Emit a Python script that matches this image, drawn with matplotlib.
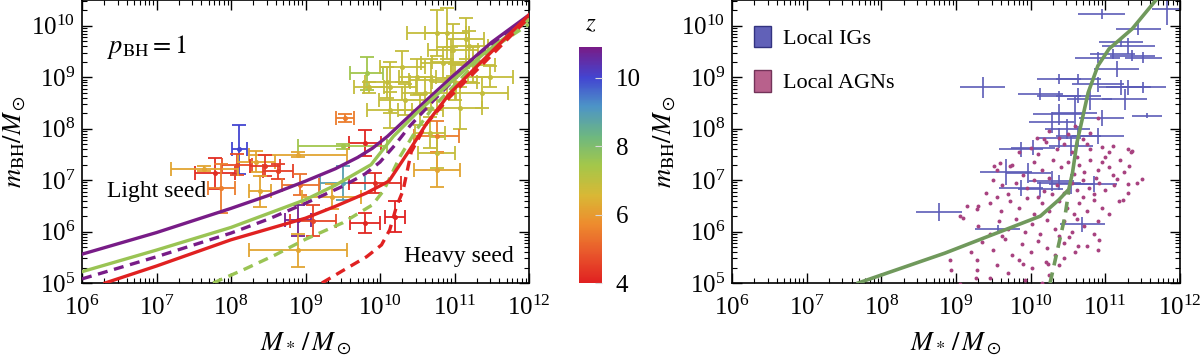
import matplotlib
matplotlib.use('Agg')
import matplotlib.pyplot as plt
import numpy as np
from matplotlib.colors import LinearSegmentedColormap, Normalize
from matplotlib.patches import Patch
from matplotlib.ticker import LogLocator, NullFormatter, FixedLocator
import matplotlib.colorbar as mcolorbar

plt.rcParams['font.family'] = ['Liberation Serif', 'DejaVu Serif']
plt.rcParams['mathtext.fontset'] = 'stix'

# ---- model curves, left panel (log10 values) ----
purple_solid_x = [6.0, 7.0, 8.0, 8.5, 9.0, 9.4, 9.7, 9.9, 10.1, 10.3, 10.6, 11.0, 11.5, 12.0]
purple_solid_y = [5.56, 5.98, 6.45, 6.7, 6.98, 7.22, 7.44, 7.62, 7.85, 8.12, 8.52, 9.05, 9.68, 10.21]
purple_dash_x = [6.0, 7.0, 8.0, 8.5, 9.0, 9.5, 9.8, 10.0, 10.2, 10.4, 10.72, 11.16, 11.61, 12.0]
purple_dash_y = [5.08, 5.51, 5.97, 6.24, 6.55, 6.88, 7.12, 7.35, 7.68, 8.05, 8.55, 9.2, 9.75, 10.12]
green_solid_x = [6.0, 7.0, 8.0, 9.0, 9.4, 9.88, 10.18, 10.49, 10.94, 11.38, 12.0]
green_solid_y = [5.22, 5.64, 6.08, 6.62, 6.90, 7.30, 7.85, 8.30, 8.89, 9.44, 10.12]
green_dash_x = [7.76, 8.2, 8.6, 9.0, 9.5, 9.9, 10.05, 10.27, 10.49, 10.72, 11.16, 11.61, 12.0]
green_dash_y = [5.0, 5.28, 5.55, 5.85, 6.17, 6.52, 6.8, 7.46, 7.98, 8.43, 9.08, 9.66, 10.03]
red_solid_x = [6.31, 7.0, 8.0, 9.0, 9.4, 9.82, 10.12, 10.4, 10.63, 10.94, 11.39, 12.0]
red_solid_y = [5.0, 5.33, 5.84, 6.26, 6.49, 6.75, 6.98, 7.59, 8.11, 8.69, 9.34, 10.21]
red_dash_x = [9.22, 9.5, 9.82, 10.02, 10.13, 10.22, 10.31, 10.42, 10.63, 10.94, 11.39, 12.0]
red_dash_y = [5.0, 5.24, 5.51, 5.74, 6.03, 6.48, 6.8, 7.55, 8.11, 8.62, 9.27, 10.16]
curve_z = {'purple': 10.9, 'green': 7.6, 'red': 4.0}

# ---- high-z observed AGNs (log10 M*, log10 mBH, errors, redshift) ----
obs_lx = [8.11, 8.90, 9.50, 9.82, 9.85, 10.13, 10.76, 10.98, 10.85, 11.25,
          11.48, 11.37, 11.07, 10.69, 10.34, 10.54, 10.13, 10.76, 10.76, 10.76,
          10.67, 9.53, 9.80, 9.50, 8.90, 7.79, 8.08, 7.64, 8.34, 8.46,
          8.63, 7.87, 8.39, 8.93, 9.10, 8.90, 9.93, 9.80, 10.20, 9.35,
          10.90, 10.95, 10.10, 11.20, 10.60, 10.50, 11.00, 11.15, 10.30]
obs_ly = [7.60, 6.22, 6.95, 9.08, 8.80, 8.80, 9.86, 9.53, 9.28, 9.24,
          9.01, 8.70, 8.40, 8.95, 8.56, 8.37, 8.37, 7.85, 7.53, 7.20,
          7.92, 8.21, 7.72, 7.66, 7.49, 7.13, 7.30, 7.22, 7.36, 7.28,
          7.17, 6.84, 6.78, 6.91, 6.21, 5.64, 6.94, 6.17, 6.29, 6.68,
          9.85, 9.29, 8.90, 9.60, 8.70, 9.00, 8.90, 9.75, 9.20]
obs_dx = [0.10, 0.18, 0.30, 0.22, 0.20, 0.35, 0.40, 0.33, 0.30, 0.30,
          0.30, 0.35, 0.30, 0.30, 0.35, 0.30, 0.30, 0.30, 0.25, 0.31,
          0.20, 0.12, 0.22, 0.60, 0.66, 0.27, 0.20, 0.45, 0.25, 0.20,
          0.20, 0.18, 0.15, 0.25, 0.31, 0.66, 0.35, 0.20, 0.13, 0.40,
          0.30, 0.25, 0.30, 0.25, 0.30, 0.25, 0.30, 0.25, 0.30]
obs_dy = [0.48, 0.30, 0.33, 0.32, 0.10, 0.50, 0.45, 0.50, 0.30, 0.35,
          0.20, 0.30, 0.40, 0.40, 0.30, 0.30, 0.35, 0.30, 0.30, 0.33,
          0.30, 0.08, 0.25, 0.05, 0.05, 0.30, 0.20, 0.05, 0.20, 0.20,
          0.15, 0.47, 0.30, 0.20, 0.30, 0.32, 0.20, 0.20, 0.30, 0.25,
          0.50, 0.30, 0.30, 0.30, 0.30, 0.35, 0.35, 0.40, 0.30]
obs_z = [10.0, 10.8, 8.9, 7.5, 6.9, 6.9, 6.9, 6.9, 6.9, 6.9,
         6.9, 6.9, 6.9, 6.9, 6.9, 6.9, 6.9, 5.5, 6.9, 6.2,
         6.9, 5.5, 4.1, 7.5, 6.2, 4.2, 4.7, 6.2, 6.2, 4.4,
         4.5, 5.5, 6.2, 5.3, 4.6, 6.2, 4.2, 4.1, 4.0, 6.2,
         6.9, 6.9, 6.9, 6.9, 6.9, 6.9, 6.9, 6.9, 6.9]

# ---- right panel: local inactive galaxies (IGs) ----
ig_lx = [10.95, 11.82, 11.44, 11.21, 11.31, 11.36, 11.10, 11.51, 10.90, 11.15,
         9.36, 8.77, 10.38, 10.64, 10.90, 11.21, 11.51, 10.38, 10.13, 10.64,
         10.79, 11.26, 11.56, 10.59, 10.38, 10.28, 10.49, 10.64, 10.38, 10.03,
         10.54, 9.87, 9.67, 9.97, 10.28, 10.38, 10.54, 10.85, 9.87, 10.13,
         9.56, 10.69, 10.95, 11.31, 10.90]
ig_ly = [10.23, 10.32, 9.94, 9.68, 9.61, 9.42, 9.45, 9.38, 9.38, 9.16,
         8.80, 6.38, 8.96, 8.96, 8.86, 8.80, 8.80, 8.64, 8.67, 8.64,
         8.57, 8.57, 8.25, 8.31, 8.28, 8.12, 7.99, 7.86, 7.82, 7.63,
         7.66, 7.60, 7.16, 7.14, 6.98, 6.95, 6.92, 6.92, 6.85, 6.82,
         6.04, 6.14, 8.21, 8.80, 7.86]
ig_dx = [0.31, 0.20, 0.30, 0.30, 0.35, 0.30, 0.30, 0.25, 0.30, 0.30,
         0.30, 0.31, 0.30, 0.30, 0.35, 0.30, 0.30, 0.30, 0.30, 0.30,
         0.30, 0.30, 0.20, 0.30, 0.35, 0.30, 0.30, 0.30, 0.30, 0.30,
         0.30, 0.30, 0.35, 0.30, 0.30, 0.30, 0.30, 0.30, 0.30, 0.30,
         0.30, 0.30, 0.30, 0.30, 0.35]
ig_dy = [0.10, 0.30, 0.12, 0.10, 0.15, 0.10, 0.10, 0.10, 0.10, 0.15,
         0.21, 0.18, 0.10, 0.10, 0.15, 0.15, 0.10, 0.10, 0.12, 0.15,
         0.20, 0.20, 0.05, 0.30, 0.20, 0.20, 0.20, 0.20, 0.20, 0.15,
         0.20, 0.15, 0.25, 0.20, 0.20, 0.15, 0.20, 0.15, 0.15, 0.15,
         0.08, 0.15, 0.15, 0.15, 0.15]

# ---- right panel: local AGNs ----
agn_lx = [10.9, 10.5, 10.25, 10.6, 10.2, 10.35, 10.45, 10.55, 10.7, 10.8,
          10.95, 11.05, 11.3, 11.35, 9.85, 10.0, 10.1, 10.75, 10.62, 9.55,
          9.75, 10.05, 10.15, 10.3, 10.4, 10.5, 10.65, 10.72, 10.8, 10.9,
          10.95, 11.05, 11.1, 11.2, 11.25, 11.0, 10.58, 9.9, 10.25, 11.32,
          9.5, 9.62, 9.8, 9.95, 10.05, 10.18, 10.35, 10.45, 10.55, 10.62,
          10.7, 10.78, 10.85, 10.92, 11.0, 11.12, 11.3, 11.42, 9.4, 10.28,
          10.88, 11.15, 9.7, 9.3, 9.45, 9.6, 9.72, 9.85, 9.95, 10.05,
          10.15, 10.25, 10.38, 10.48, 10.58, 10.65, 10.75, 10.85, 10.95, 11.05,
          11.18, 9.05, 9.55, 10.1, 10.7, 9.15, 9.3, 9.45, 9.58, 9.7,
          9.8, 9.92, 10.02, 10.12, 10.22, 10.32, 10.45, 10.55, 10.62, 10.72,
          10.85, 9.62, 10.38, 10.9, 9.35, 9.5, 9.65, 9.75, 9.88, 10.0,
          10.1, 10.22, 10.32, 10.45, 10.6, 10.75, 10.9, 9.2, 10.52, 8.92,
          8.93, 9.28, 9.28, 9.27, 9.05, 9.55, 9.7, 9.85, 9.92, 10.02,
          10.2, 10.25, 10.38, 10.15, 9.45, 9.51, 9.59, 9.72, 10.08, 10.18,
          10.38, 10.79, 11.1, 11.36, 11.49, 11.31, 11.23, 9.09, 9.28, 10.44,
          10.64, 10.92, 10.23, 9.9]
agn_ly = [8.2, 7.9, 7.95, 8.05, 7.75, 7.6, 7.7, 7.55, 7.8, 7.6,
          7.65, 7.55, 7.6, 7.55, 7.55, 7.62, 7.5, 7.7, 7.45, 7.2,
          7.3, 7.35, 7.2, 7.4, 7.25, 7.35, 7.3, 7.15, 7.4, 7.2,
          7.35, 7.25, 7.1, 7.4, 7.15, 7.45, 7.12, 7.1, 7.05, 7.28,
          7.0, 6.9, 6.95, 6.85, 7.0, 6.78, 6.9, 6.75, 6.95, 6.8,
          7.0, 6.85, 6.72, 6.95, 6.8, 6.9, 6.75, 6.95, 6.75, 6.72,
          7.05, 7.02, 6.72, 6.5, 6.55, 6.4, 6.6, 6.45, 6.65, 6.35,
          6.55, 6.4, 6.6, 6.45, 6.35, 6.55, 6.4, 6.62, 6.45, 6.35,
          6.6, 6.3, 6.68, 6.68, 6.68, 6.5, 6.1, 5.95, 6.2, 6.05,
          6.25, 6.0, 6.15, 5.95, 6.22, 6.05, 6.2, 6.0, 6.25, 6.1,
          5.95, 5.92, 5.92, 6.2, 5.8, 5.65, 5.85, 5.55, 5.75, 5.6,
          5.82, 5.68, 5.55, 5.78, 5.6, 5.72, 5.65, 5.6, 5.9, 5.45,
          5.25, 5.45, 5.25, 5.1, 4.98, 5.35, 5.2, 5.45, 5.05, 5.3,
          5.4, 5.15, 5.35, 5.0, 5.1, 7.27, 7.34, 7.27, 7.82, 7.79,
          7.82, 7.92, 7.66, 7.56, 7.03, 6.92, 6.62, 6.27, 6.44, 5.49,
          5.71, 5.84, 5.36, 5.36]

# right panel model curve
rp_solid_x = [7.69, 8.85, 10.13, 10.38, 10.51, 10.56, 10.62, 10.67, 10.77, 10.90, 11.05, 11.36, 11.69]
rp_solid_y = [5.0, 5.58, 6.30, 6.62, 6.82, 7.14, 7.73, 8.05, 8.70, 9.22, 9.55, 9.94, 10.52]
rp_dash_x = [10.26, 10.36, 10.46, 10.51]
rp_dash_y = [5.0, 5.65, 6.30, 6.79]

x_decades = [6, 7, 8, 9, 10, 11, 12]
y_decades = [5, 6, 7, 8, 9, 10]

cmap = LinearSegmentedColormap.from_list('rb', [
    (0.00, (0.88, 0.13, 0.13)), (0.12, (0.91, 0.33, 0.17)),
    (0.25, (0.93, 0.55, 0.18)), (0.37, (0.85, 0.72, 0.21)),
    (0.50, (0.64, 0.78, 0.29)), (0.62, (0.43, 0.72, 0.50)),
    (0.75, (0.30, 0.58, 0.78)), (0.87, (0.26, 0.27, 0.82)),
    (1.00, (0.47, 0.11, 0.53))])
norm = Normalize(4, 10.9)


def p10(a):
    return 10 ** np.asarray(a, dtype=float)


def style(ax):
    ax.set_xscale('log')
    ax.set_yscale('log')
    ax.set_xlim(1e6, 1e12)
    ax.set_ylim(1e5, 10 ** 10.5)
    ax.xaxis.set_major_locator(FixedLocator(p10(x_decades)))
    ax.yaxis.set_major_locator(FixedLocator(p10(y_decades)))
    for axis in (ax.xaxis, ax.yaxis):
        axis.set_minor_locator(LogLocator(base=10, subs=np.arange(2, 10), numticks=20))
        axis.set_minor_formatter(NullFormatter())
    ax.tick_params(which='both', direction='in', top=True, right=True, labelsize=18)
    ax.tick_params(which='major', length=7, width=1.0)
    ax.tick_params(axis='x', which='major', pad=9)
    ax.tick_params(axis='y', which='major', pad=5)
    ax.tick_params(which='minor', length=3.5, width=0.8)
    for s in ax.spines.values():
        s.set_linewidth(1.2)
    ax.set_xlabel(r'$M_*\,/\,M_\odot$', fontsize=19, labelpad=8)
    ax.set_ylabel(r'$m_{\rm BH}/M_\odot$', fontsize=19, labelpad=2)


fig = plt.figure(figsize=(12, 3.6), dpi=100)
ax1 = fig.add_axes([82 / 1200, 77 / 360, 447 / 1200, 283 / 360])
ax2 = fig.add_axes([732 / 1200, 77 / 360, 448 / 1200, 283 / 360])
cax = fig.add_axes([579 / 1200, 77 / 360, 23 / 1200, 236 / 360])

# left panel
for lx, ly, dx, dy, z in zip(obs_lx, obs_ly, obs_dx, obs_dy, obs_z):
    x, y = 10 ** lx, 10 ** ly
    ax1.errorbar([x], [y], xerr=[[x - 10 ** (lx - dx)], [10 ** (lx + dx) - x]],
                 yerr=[[y - 10 ** (ly - dy)], [10 ** (ly + dy) - y]],
                 fmt='o', ms=2.6, color=cmap(norm(z)), lw=1.3, capsize=5, capthick=1.3, zorder=2)

lw = 2.4
dash = (0, (3, 2))
ax1.plot(p10(purple_solid_x), p10(purple_solid_y), color=cmap(norm(curve_z['purple'])), lw=lw, zorder=4)
ax1.plot(p10(purple_dash_x), p10(purple_dash_y), color=cmap(norm(curve_z['purple'])), lw=lw, ls=dash, zorder=4)
ax1.plot(p10(green_solid_x), p10(green_solid_y), color=cmap(norm(curve_z['green'])), lw=lw, zorder=4)
ax1.plot(p10(green_dash_x), p10(green_dash_y), color=cmap(norm(curve_z['green'])), lw=lw, ls=dash, zorder=4)
ax1.plot(p10(red_solid_x), p10(red_solid_y), color=cmap(norm(curve_z['red'])), lw=lw, zorder=4)
ax1.plot(p10(red_dash_x), p10(red_dash_y), color=cmap(norm(curve_z['red'])), lw=lw, ls=dash, zorder=4)

ax1.text(0.056, 0.834, r'$p_{\rm BH}=1$', transform=ax1.transAxes, fontsize=19, va='center')
ax1.text(0.056, 0.325, 'Light seed', transform=ax1.transAxes, fontsize=17, va='center')
ax1.text(0.965, 0.095, 'Heavy seed', transform=ax1.transAxes, fontsize=17, va='center', ha='right')
style(ax1)

# colorbar
cb = mcolorbar.ColorbarBase(cax, cmap=cmap, norm=norm, ticks=[4, 6, 8, 10])
cb.outline.set_visible(False)
cax.tick_params(direction='in', length=5, color='0.85', labelsize=18, pad=10)
cax.set_title(r'$z$', fontsize=18, pad=12)

# right panel
for lx, ly, dx, dy in zip(ig_lx, ig_ly, ig_dx, ig_dy):
    x, y = 10 ** lx, 10 ** ly
    ax2.errorbar([x], [y], xerr=[[x - 10 ** (lx - dx)], [10 ** (lx + dx) - x]],
                 yerr=[[y - 10 ** (ly - dy)], [10 ** (ly + dy) - y]],
                 fmt='none', ecolor=(0.36, 0.36, 0.72), lw=1.2, zorder=2)
ax2.scatter(p10(agn_lx), p10(agn_ly), s=8, color=(0.66, 0.26, 0.5), lw=0, zorder=3)
ax2.plot(p10(rp_solid_x), p10(rp_solid_y), color=(0.44, 0.6, 0.36), lw=2.6, zorder=4)
ax2.plot(p10(rp_dash_x), p10(rp_dash_y), color=(0.44, 0.6, 0.36), lw=2.6, ls=dash, zorder=4)
handles = [Patch(facecolor=(0.38, 0.38, 0.72), edgecolor=(0.2, 0.2, 0.5), label='Local IGs'),
           Patch(facecolor=(0.72, 0.38, 0.55), edgecolor=(0.45, 0.2, 0.35), label='Local AGNs')]
ax2.legend(handles=handles, loc='upper left', frameon=False, fontsize=16,
           handlelength=0.75, handleheight=1.1, labelspacing=0.95, handletextpad=0.55,
           bbox_to_anchor=(0.03, 0.94), borderaxespad=0)
style(ax2)

fig.savefig('out.png', dpi=100)
